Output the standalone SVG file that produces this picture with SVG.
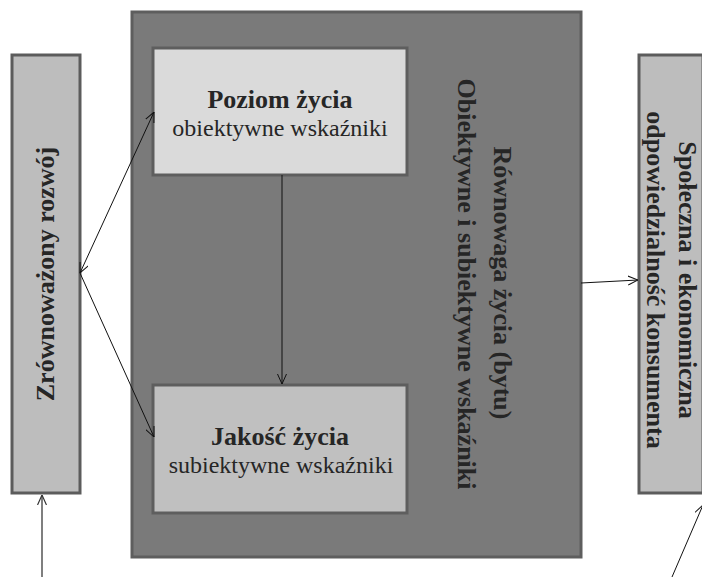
<svg xmlns="http://www.w3.org/2000/svg" width="702" height="577" viewBox="0 0 702 577">
<style>
.side{fill:#bdbdbd;stroke:#5c5c5c;stroke-width:3}
.main{fill:#7a7a7a;stroke:#5e5e5e;stroke-width:3}
.inner{stroke:#5e5e5e;stroke-width:3}
.t{font-family:"Liberation Serif","Times New Roman",serif;fill:#262626;text-anchor:middle}
.b{font-weight:bold;font-size:26px}
.r{font-size:24px}
.c{fill:none;stroke:#111;stroke-width:1}
</style>
<defs>
<marker id="ah" viewBox="0 0 10 10" refX="10" refY="5" markerWidth="10" markerHeight="10" markerUnits="userSpaceOnUse" orient="auto-start-reverse">
<path d="M0,0.5 L10,5 L0,9.5" fill="none" stroke="#111" stroke-width="1"/>
</marker>
<marker id="ahg" viewBox="0 0 10 10" refX="10" refY="5" markerWidth="10" markerHeight="10" markerUnits="userSpaceOnUse" orient="auto">
<path d="M0,0.5 L10,5 L0,9.5" fill="none" stroke="#333" stroke-width="1.2"/>
</marker>
</defs>
<g id="main">
<rect class="main" x="132" y="12" width="449" height="545"/>
<text class="t b" transform="translate(494,283) rotate(90)">Równowaga życia (bytu)</text>
<text class="t b" transform="translate(458,284) rotate(90)">Obiektywne i subiektywne wskaźniki</text>
</g>
<g id="poziom">
<rect class="inner" x="153" y="48" width="254" height="127" fill="#dadada"/>
<text class="t b" x="280" y="108">Poziom życia</text>
<text class="t r" x="280" y="136">obiektywne wskaźniki</text>
</g>
<g id="jakosc">
<rect class="inner" x="153" y="385" width="254" height="128" fill="#c0c0c0"/>
<text class="t b" x="280" y="445">Jakość życia</text>
<text class="t r" x="281" y="473">subiektywne wskaźniki</text>
</g>
<g id="zrownowazony">
<rect class="side" x="12" y="55" width="68" height="438"/>
<text class="t b" transform="translate(54,274) rotate(-90)">Zrównoważony rozwój</text>
</g>
<g id="spoleczna">
<rect class="side" x="639" y="55" width="64" height="438"/>
<text class="t b" transform="translate(679,280) rotate(90)">Społeczna i ekonomiczna</text>
<text class="t b" transform="translate(647,280) rotate(90)">odpowiedzialność konsumenta</text>
</g>
<g id="connectors">
<line class="c" x1="80" y1="273" x2="154" y2="112" marker-start="url(#ah)" marker-end="url(#ah)"/>
<line class="c" x1="80" y1="273" x2="154" y2="437" marker-end="url(#ah)"/>
<line class="c" x1="282" y1="175" x2="282" y2="384" marker-end="url(#ah)"/>
<line class="c" x1="581" y1="283" x2="638" y2="280" marker-end="url(#ah)"/>
<line x1="42" y1="577" x2="42" y2="495" stroke="#555" stroke-width="1.5" marker-end="url(#ahg)"/>
<line class="c" x1="672" y1="577" x2="703" y2="505" marker-end="url(#ah)"/>
</g>
</svg>
